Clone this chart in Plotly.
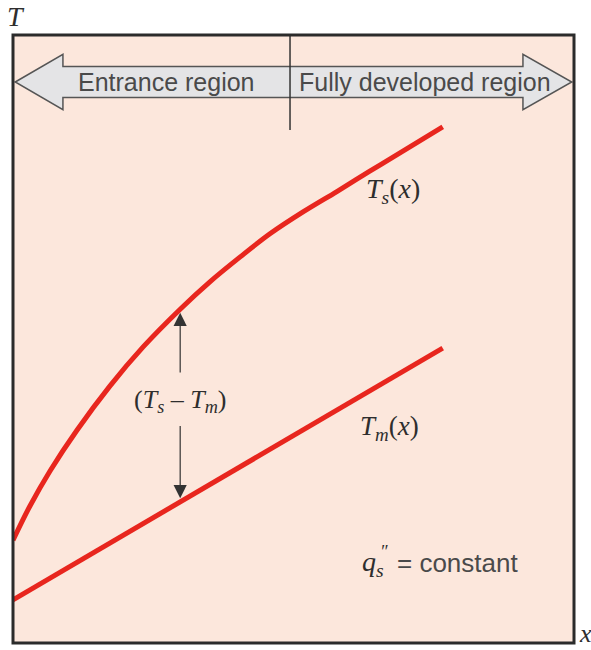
import plotly.graph_objects as go

# Axial position along the tube and temperatures (arbitrary units)
x_surface = [0.0, 0.30, 0.66, 1.14, 1.73, 2.32, 2.98, 3.51, 4.05, 4.58, 5.17, 5.78, 6.36, 6.95, 7.66]
T_surface = [1.69, 2.25, 2.83, 3.50, 4.23, 4.87, 5.49, 5.94, 6.35, 6.73, 7.09, 7.43, 7.76, 8.09, 8.49]

x_mean = [0.0, 7.66]
T_mean = [0.71, 4.85]

# Location of the temperature-difference marker
x_gap = 2.98

RED = "#E8261E"
GREY_TEXT = "#4a4a4a"
INK = "#2e2e2e"
SERIF = "Liberation Serif, DejaVu Serif, serif"
SANS = "Liberation Sans, Arial, sans-serif"


def interp(xs, ys, x):
    for i in range(len(xs) - 1):
        if xs[i] <= x <= xs[i + 1]:
            t = (x - xs[i]) / (xs[i + 1] - xs[i])
            return ys[i] + t * (ys[i + 1] - ys[i])
    return ys[-1]


Ts_gap = interp(x_surface, T_surface, x_gap)
Tm_gap = interp(x_mean, T_mean, x_gap)
T_mid = 0.5 * (Ts_gap + Tm_gap) + 0.07

fig = go.Figure()
fig.add_trace(go.Scatter(x=x_surface, y=T_surface, mode="lines",
                         line=dict(color=RED, width=5, shape="spline", smoothing=1.0),
                         hoverinfo="skip", showlegend=False))
fig.add_trace(go.Scatter(x=x_mean, y=T_mean, mode="lines",
                         line=dict(color=RED, width=5),
                         hoverinfo="skip", showlegend=False))

shapes = []
# Double-headed block arrow marking the two flow regions
tip_l, tip_r = 0.004, 0.996
base_l, base_r = 0.089, 0.909
yc, body_h, head_h = 0.9227, 0.0255, 0.0455
path = (f"M {tip_l},{yc} L {base_l},{yc+head_h} L {base_l},{yc+body_h} "
        f"L {base_r},{yc+body_h} L {base_r},{yc+head_h} L {tip_r},{yc} "
        f"L {base_r},{yc-head_h} L {base_r},{yc-body_h} L {base_l},{yc-body_h} "
        f"L {base_l},{yc-head_h} Z")
shapes.append(dict(type="path", xref="paper", yref="paper", path=path,
                   fillcolor="#E4E4E6", line=dict(color="#555555", width=1.5), layer="above"))
# Divider between entrance and fully developed regions
shapes.append(dict(type="line", xref="paper", yref="paper", x0=0.4938, x1=0.4938,
                   y0=1.0, y1=0.8438, line=dict(color="#333333", width=1.5), layer="above"))
# Frame
shapes.append(dict(type="rect", xref="paper", yref="paper", x0=0, x1=1, y0=0, y1=1,
                   line=dict(color="#2b2b2b", width=3), layer="above"))


def label(text, x, y, size, family, color=INK, ref="data", xanchor="center", yanchor="middle"):
    d = dict(text=text, x=x, y=y, showarrow=False, xanchor=xanchor, yanchor=yanchor,
             font=dict(family=family, size=size, color=color))
    if ref == "paper":
        d.update(xref="paper", yref="paper")
    return d


annotations = [
    label("Entrance region", 0.2745, 0.9227, 25, SANS, GREY_TEXT, ref="paper"),
    label("Fully developed region", 0.7344, 0.9227, 25, SANS, GREY_TEXT, ref="paper"),
    label("<i>T</i><sub><i>s</i></sub>(<i>x</i>)", 6.77, 7.45, 28, SERIF),
    label("<i>T</i><sub><i>m</i></sub>(<i>x</i>)", 6.72, 3.54, 27, SERIF),
    label("(<i>T</i><sub><i>s</i></sub> – <i>T</i><sub><i>m</i></sub>)", x_gap, T_mid, 26, SERIF),
    label("<i>q</i><sub><i>s</i></sub>", 6.42, 1.30, 28, SERIF),
    label("<i>″</i>", 6.61, 1.50, 18, SERIF),
    label("= constant", 6.81, 1.31, 26, SANS, GREY_TEXT, xanchor="left"),
    label("<i>T</i>", 0.006, 1.03, 28, SERIF, ref="paper"),
    label("<i>x</i>", 1.021, -0.0115, 26, SERIF, ref="paper", yanchor="bottom"),
    # arrows spanning the temperature difference
    dict(x=x_gap, y=Ts_gap - 0.06, ax=x_gap, ay=T_mid + 0.45, xref="x", yref="y",
         axref="x", ayref="y", text="", showarrow=True, arrowhead=2, arrowsize=2.2,
         arrowwidth=1.2, arrowcolor="#333333"),
    dict(x=x_gap, y=Tm_gap + 0.06, ax=x_gap, ay=T_mid - 0.38, xref="x", yref="y",
         axref="x", ayref="y", text="", showarrow=True, arrowhead=2, arrowsize=2.2,
         arrowwidth=1.2, arrowcolor="#333333"),
]

fig.update_layout(
    width=591, height=650,
    margin=dict(l=13, r=17, t=35, b=7),
    paper_bgcolor="white", plot_bgcolor="#FCE7DC",
    xaxis=dict(range=[0, 10], visible=False, fixedrange=True),
    yaxis=dict(range=[0, 10], visible=False, fixedrange=True),
    shapes=shapes, annotations=annotations,
)

fig.write_html("out.html")
